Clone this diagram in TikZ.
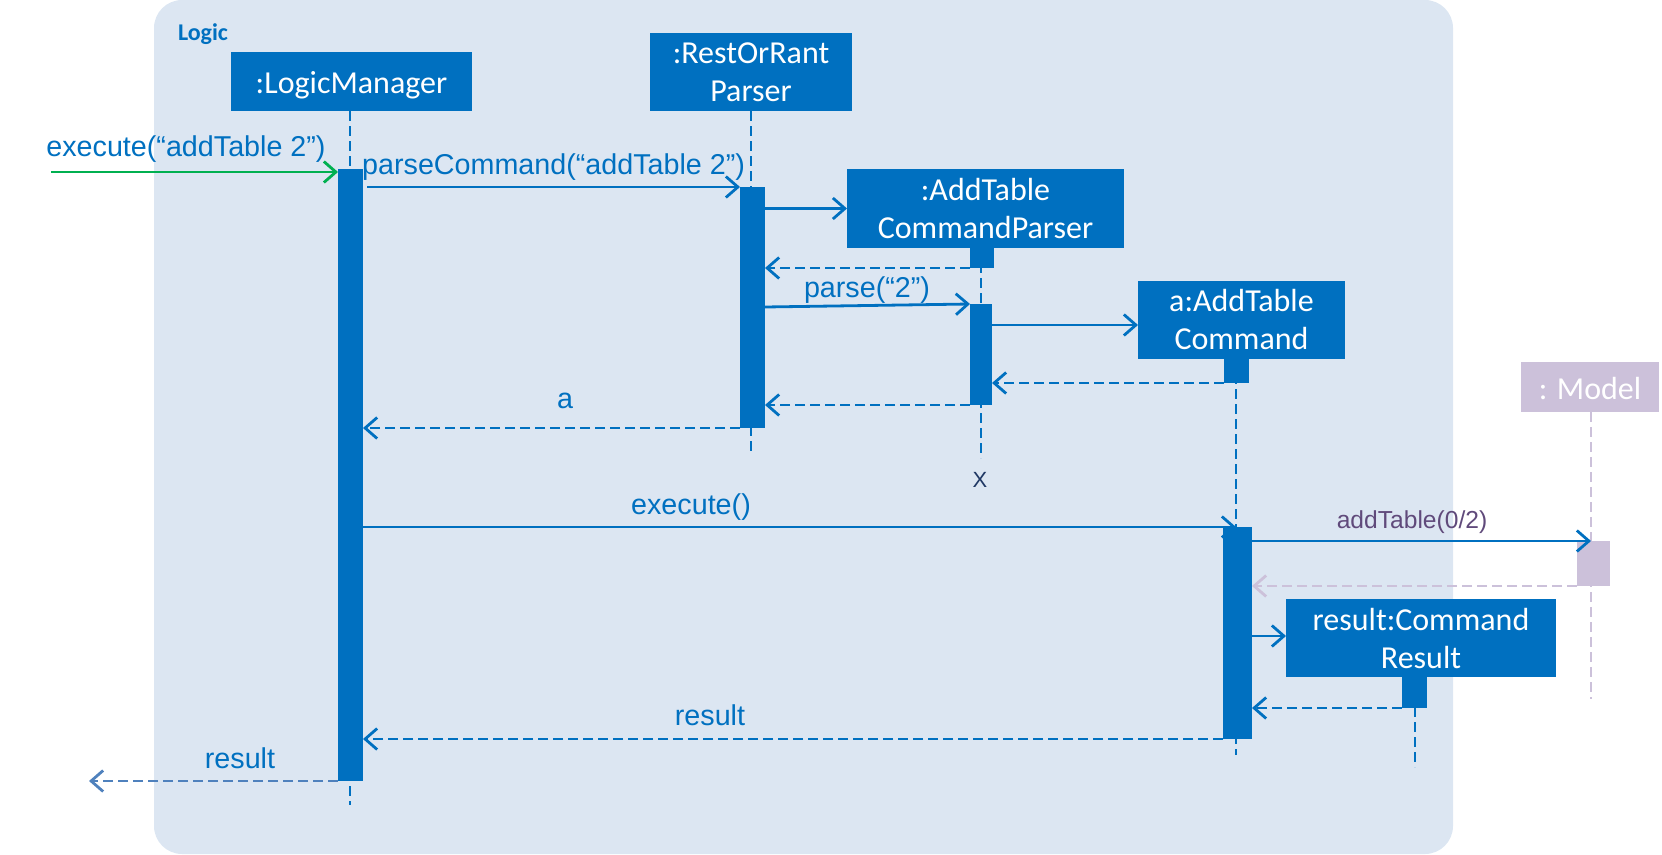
\documentclass[tikz,border=0pt]{standalone}
\usepackage{fontspec}
\setmainfont{Liberation Sans}
\newfontfamily\boxfont{Carlito}
\usetikzlibrary{arrows.meta,calc}
\definecolor{ublue}{HTML}{0070C0}
\definecolor{framec}{HTML}{DCE6F2}
\definecolor{ugreen}{HTML}{00B050}
\definecolor{lilac}{HTML}{CCC1DA}
\definecolor{upurple}{HTML}{604A7B}
\definecolor{lblue}{HTML}{4F81BD}
\definecolor{navy}{HTML}{1F3864}
\begin{document}
\begin{tikzpicture}[x=1pt,y=-1pt,
  obj/.style={fill=ublue, text=white, font=\boxfont\fontsize{32}{38}\selectfont, align=center, inner sep=0pt, outer sep=0pt, anchor=north west},
  actbar/.style={fill=ublue, inner sep=0pt, outer sep=0pt, anchor=north west},
  life/.style={draw=ublue, line width=2.8pt, dash pattern=on 10pt off 5pt},
  msg/.style={draw=ublue, line width=2.8pt, -{Straight Barb[length=12pt,width=21pt]}},
  ret/.style={msg, dash pattern=on 10pt off 5pt},
  lbl/.style={text=ublue, font=\fontsize{28.7}{34}\selectfont, inner sep=0pt, anchor=base}]
\useasboundingbox (0,0) rectangle (1662,854);
% frame
\fill[framec, rounded corners=28pt] (154,0) rectangle (1453,854);
\node[text=ublue, font=\boxfont\bfseries\fontsize{24}{28}\selectfont, inner sep=0pt] (logic) at (203,34) {Logic};

% object boxes
\node[obj, minimum width=241pt, minimum height=59pt] (lm) at (231,52) {\raisebox{-4pt}[\height][\depth]{:LogicManager}};
\node[obj, minimum width=202pt, minimum height=78pt] (rp) at (650,33) {:RestOrRant\\Parser};
\node[obj, minimum width=277pt, minimum height=79pt] (acp) at (847,169) {:AddTable\\CommandParser};
\node[obj, minimum width=207pt, minimum height=78pt] (atc) at (1138,281) {a:AddTable\\Command};
\node[obj, fill=lilac, minimum width=138pt, minimum height=50pt] (md) at (1521,362) {\raisebox{-2pt}[\height][\depth]{: Model}};
\node[obj, minimum width=270pt, minimum height=78pt] (rs) at (1286,599) {result:Command\\Result};

% lifeline ends
\coordinate (lmend) at (350,805);
\coordinate (rpend) at (751,453);
\coordinate (acpend) at (981,458);
\coordinate (atcend) at (1236,755);
\coordinate (mdend) at (1591,699);
\coordinate (rsend) at (1415,767);

\draw[life] (lm.south -| lmend) -- (lmend);
\draw[life] (rp.south -| rpend) -- (rpend);
\draw[life] (acp.south -| acpend) -- (acpend);
\draw[life] (atc.south -| atcend) -- (atcend);
\draw[life, draw=lilac] (md.south -| mdend) -- (mdend);
\draw[life] (rs.south -| rsend) -- (rsend);

% activation bars
\node[actbar, minimum width=25pt, minimum height=612pt] (lmb) at (338,169) {};
\node[actbar, minimum width=25pt, minimum height=241pt] (rpb) at (740,187) {};
\node[actbar, minimum width=24pt, minimum height=20pt] (acps) at (970,248) {};
\node[actbar, minimum width=22pt, minimum height=101pt] (acpb) at (970,304) {};
\node[actbar, minimum width=25pt, minimum height=24pt] (atcs) at (1224,359) {};
\node[actbar, minimum width=29pt, minimum height=212pt] (atcb) at (1223,527) {};
\node[actbar, fill=lilac, minimum width=33pt, minimum height=45pt] (mdb) at (1577,541) {};
\node[actbar, minimum width=25pt, minimum height=31pt] (rss) at (1402,677) {};

% outside end points
\coordinate (extin) at (51,172);
\coordinate (extout) at (89,781);

% messages
\draw[msg, draw=ugreen] (extin) -- (lmb.west |- extin);
\draw[msg, shorten <=4pt] (lmb.east |- rpb.north) -- (rpb.north west);
\draw[msg] (rpb.east |- acp.west) -- (acp.west);
\draw[ret] (acps.south west) -- (rpb.east |- acps.south);
\draw[msg] ($(rpb.east |- acpb.north)+(0,3)$) -- (acpb.north west);
\draw[msg] ($(acpb.east |- atc.west)+(0,5)$) -- ($(atc.west)+(0,5)$);
\draw[ret] (atcs.south west) -- (acpb.east |- atcs.south);
\draw[ret] (acpb.south west) -- (rpb.east |- acpb.south);
\draw[ret] (rpb.south west) -- (lmb.east |- rpb.south);
\draw[msg] (lmb.east |- atcb.north) -- (atcb.north -| atcend);
\draw[msg] (atcb.east |- mdb.north) -- (mdb.north -| mdend);
\draw[ret, draw=lilac] (mdb.south west) -- (atcb.east |- mdb.south);
\draw[msg] ($(atcb.east |- rs.west)+(0,-2)$) -- ($(rs.west)+(0,-2)$);
\draw[ret] (rss.south west) -- (atcb.east |- rss.south);
\draw[ret] (atcb.south west) -- (lmb.east |- atcb.south);
\draw[ret, draw=lblue] (lmb.south west) -- (extout);

% labels
\node[lbl] (l1) at (186,156) {execute(“addTable 2”)};
\node[lbl, anchor=base west] (l2) at (362,174) {parseCommand(“addTable 2”)};
\node[lbl] (l3) at (867,297) {parse(“2”)};
\node[lbl] (l4) at (565,408) {a};
\node[lbl] (l5) at (691,514) {execute()};
\node[lbl, text=upurple, font=\fontsize{24.6}{29}\selectfont] (l6) at (1412,528) {addTable(0/2)};
\node[lbl] (l7) at (710,725) {result};
\node[lbl] (l8) at (240,768) {result};
\node[text=navy, font=\fontsize{22}{26}\selectfont, inner sep=0pt] (xx) at (980,480) {X};
\end{tikzpicture}
\end{document}
